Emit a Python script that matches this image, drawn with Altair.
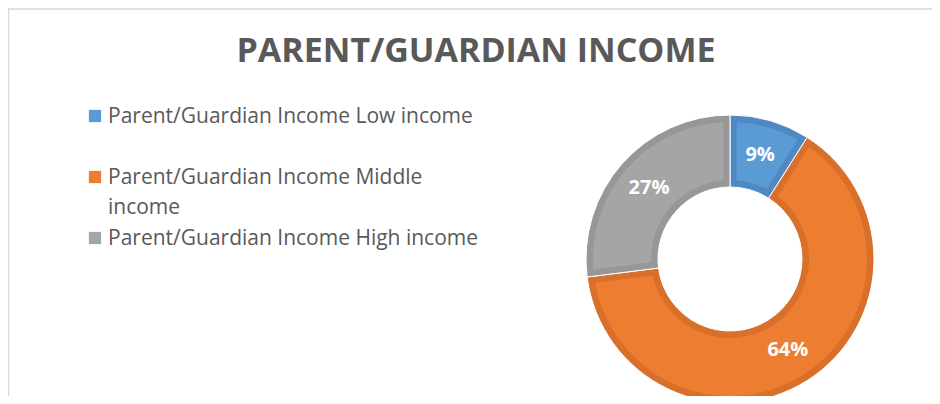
import altair as alt
import pandas as pd

categories = [
    "Parent/Guardian Income Low income",
    "Parent/Guardian Income Middle income",
    "Parent/Guardian Income High income",
]
legend_text = [
    "Parent/Guardian Income Low income",
    "Parent/Guardian Income Middle\nincome",
    "Parent/Guardian Income High income",
]
shares = [9, 64, 27]
fill_colors = ["#5B9BD5", "#ED7D31", "#A5A5A5"]
edge_colors = ["#4F88C2", "#D8702B", "#979797"]
title_text = "PARENT/GUARDIAN INCOME"

df = pd.DataFrame({
    "category": categories,
    "legend_text": legend_text,
    "share": shares,
    "edge": edge_colors,
    "order": list(range(len(categories))),
})

FONT = "Open Sans"
CX, CY = 722, 251

color_scale = alt.Scale(domain=categories, range=fill_colors)

base = alt.Chart(df).encode(
    theta=alt.Theta("share:Q", stack=True),
    order=alt.Order("order:Q"),
)

edge = base.mark_arc(outerRadius=144, innerRadius=72, stroke="white", strokeWidth=1).encode(
    color=alt.Color("edge:N", scale=None),
    x=alt.value(CX), y=alt.value(CY),
)

fill = base.mark_arc(outerRadius=137, innerRadius=79, padAngle=0.085).encode(
    color=alt.Color("category:N", scale=color_scale, legend=None),
    x=alt.value(CX), y=alt.value(CY),
)

labels = base.transform_calculate(
    label="datum.share + '%'"
).mark_text(radius=108, font=FONT, fontSize=20, fontWeight="bold", color="white").encode(
    text="label:N",
    x=alt.value(CX), y=alt.value(CY),
)

legend_y = alt.Y(
    "category:N",
    sort=categories,
    scale=alt.Scale(type="point", range=[108, 230], padding=0),
    axis=None,
)

legend_sq = alt.Chart(df).mark_square(size=150, opacity=1).encode(
    x=alt.value(87),
    y=legend_y,
    color=alt.Color("category:N", scale=color_scale, legend=None),
)

legend_txt = alt.Chart(df).mark_text(
    align="left", baseline="alphabetic", dy=7, font=FONT, fontSize=21,
    color="#595959", lineBreak="\n", lineHeight=30,
).encode(
    x=alt.value(100),
    y=legend_y,
    text="legend_text:N",
)

frame_df = pd.DataFrame({"k": [0]})
top_rule = alt.Chart(frame_df).mark_rule(color="#d9d9d9", strokeWidth=1.5).encode(
    x=alt.value(0), x2=alt.value(924), y=alt.value(1)
)
left_rule = alt.Chart(frame_df).mark_rule(color="#d9d9d9", strokeWidth=1.5).encode(
    x=alt.value(0.5), y=alt.value(0), y2=alt.value(388)
)

chart = alt.layer(top_rule, left_rule, edge, fill, labels, legend_sq, legend_txt).properties(
    width=924,
    height=388,
    autosize=alt.AutoSizeParams(type="none"),
    padding=0,
    title=alt.TitleParams(
        text=title_text,
        font=FONT,
        fontSize=34,
        fontWeight="bold",
        color="#595959",
        anchor="middle",
        offset=0,
        dy=89,
        dx=6,
        baseline="alphabetic",
    ),
).configure_view(strokeWidth=0)

chart.save("out.html", embed_options={"renderer": "svg", "actions": False})
